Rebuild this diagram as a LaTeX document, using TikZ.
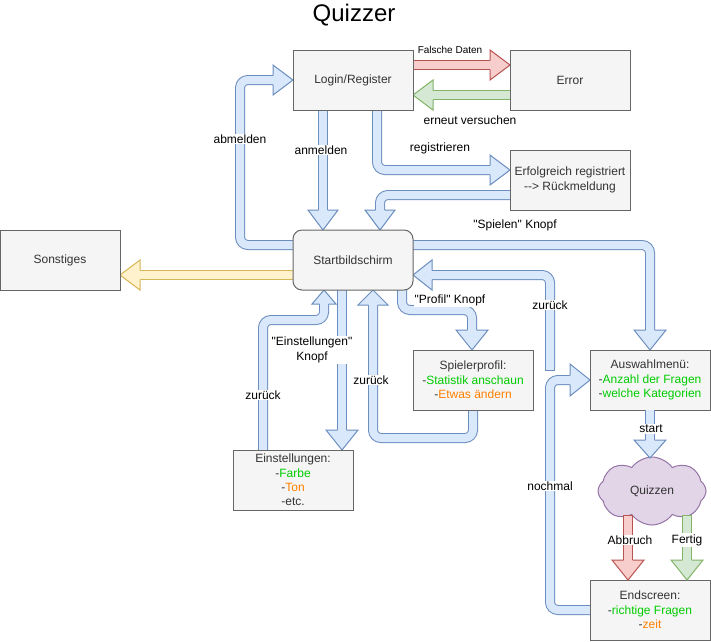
\documentclass[tikz,border=0pt]{standalone}
\usepackage{fontspec}
\setmainfont{Liberation Sans}
\newfontfamily\qfont{Liberation Sans}
\newcommand\dq{{\qfont"}}
\usetikzlibrary{calc,shapes.symbols}
\definecolor{blueF}{HTML}{DAE8FC}\definecolor{blueS}{HTML}{6C8EBF}
\definecolor{redF}{HTML}{F8CECC}\definecolor{redS}{HTML}{B85450}
\definecolor{greenF}{HTML}{D5E8D4}\definecolor{greenS}{HTML}{82B366}
\definecolor{yelF}{HTML}{FFF2CC}\definecolor{yelS}{HTML}{D6B656}
\definecolor{cloudF}{HTML}{E1D5E7}\definecolor{cloudS}{HTML}{9673A6}
\definecolor{boxF}{HTML}{F5F5F5}\definecolor{boxS}{HTML}{666666}
\definecolor{txt}{HTML}{333333}
\definecolor{G}{HTML}{00CC00}\definecolor{O}{HTML}{FF8000}
\pgfdeclarelayer{back}\pgfdeclarelayer{bg}
\pgfsetlayers{back,bg,main}
\newcommand\fhead[5]{%
  \begin{scope}[shift={#2},rotate=#3]
    \fill[#1F] (-#4,-4.5) -- (-#4,-#5) -- (0,0) -- (-#4,#5) -- (-#4,4.5) -- cycle;
    \draw[#1S,line width=1pt,line join=miter] (-#4,-4.5) -- (-#4,-#5) -- (0,0) -- (-#4,#5) -- (-#4,4.5);
  \end{scope}}
\begin{document}
\begin{tikzpicture}[x=1pt,y=-1pt,
  box/.style={draw=boxS, fill=boxF, line width=1pt, minimum width=120pt, minimum height=60pt,
    inner sep=0pt, outer sep=0pt, text=txt, align=center, font=\fontsize{12}{14.4}\selectfont},
  lbl/.style={fill=white, inner sep=1pt, text=black, align=center, font=\fontsize{12}{14.4}\selectfont},
  shaft/.style={draw=#1S, double=#1F, line width=1pt, double distance=8pt, rounded corners=8pt},
  tail/.style={draw=#1S, line width=1pt}]
\begin{pgfonlayer}{back}
  \fill[white] (0,0) rectangle (711,641);
\end{pgfonlayer}
\useasboundingbox (0,0) rectangle (711,641);

% title
\node[font=\fontsize{24}{28}\selectfont] (title) at (354,15) {Quizzer};

% boxes
\node[box] (login) at (353,80) {Login/Register};
\node[box] (error) at (570,80) {Error};
\node[box] (erfolg) at (570,180) {Erfolgreich registriert\\{-}{-}> Rückmeldung};
\node[box, rounded corners=9pt] (start) at (353,260) {Startbildschirm};
\node[box] (sonst) at (60,260) {Sonstiges};
\node[box] (profil) at (473,380) {Spielerprofil:\\-\textcolor{G}{Statistik anschaun}\\-\textcolor{O}{Etwas ändern}};
\node[box] (einst) at (293,480) {Einstellungen:\\-\textcolor{G}{Farbe}\\-\textcolor{O}{Ton}\\-etc.};
\node[box] (auswahl) at (650,380) {Auswahlmenü:\\-\textcolor{G}{Anzahl der Fragen}\\-\textcolor{G}{welche Kategorien}};
\node[cloud, draw=cloudS, fill=cloudF, line width=1pt, cloud puffs=8, cloud puff arc=110, aspect=1.6,
  minimum width=108pt, minimum height=68pt, inner sep=0pt, text=txt,
  font=\fontsize{12}{14.4}\selectfont] (quiz) at (652,491) {Quizzen};
\node[box] (endscr) at (650,610) {Endscreen:\\-\textcolor{G}{richtige Fragen}\\-\textcolor{O}{zeit}};

\begin{pgfonlayer}{bg}
  % anmelden
  \draw[shaft=blue] ($(login.south)+(-30,0)$) -- ($(start.north)+(-30,-20)$);
  \fhead{blue}{($(start.north)+(-30,0)$)}{-90}{20}{15}
  % registrieren
  \draw[shaft=blue] ($(login.south)+(24,0)$) |- ($(erfolg.west)+(-20,-10)$);
  \fhead{blue}{($(erfolg.west)+(0,-10)$)}{0}{20}{15}
  % Rueckmeldung -> Start
  \draw[shaft=blue] ($(erfolg.west)+(0,15)$) -| ($(start.north)+(27,-20)$);
  \fhead{blue}{($(start.north)+(27,0)$)}{-90}{20}{15}
  % abmelden
  \draw[shaft=blue] ($(start.west)+(0,-15)$) -- ++(-53,0) |- ($(login.west)+(-20,0)$);
  \fhead{blue}{(login.west)}{0}{20}{15}
  % Sonstiges
  \draw[shaft=yel] ($(start.west)+(0,15)$) -- ($(sonst.east)+(20,15)$);
  \fhead{yel}{($(sonst.east)+(0,15)$)}{180}{20}{15}
  % Falsche Daten
  \draw[shaft=red] ($(login.east)+(0,-15)$) -- ($(error.west)+(-20,-15)$);
  \fhead{red}{($(error.west)+(0,-15)$)}{0}{20}{15}
  % erneut versuchen
  \draw[shaft=green] ($(error.west)+(0,15)$) -- ($(login.east)+(20,15)$);
  \fhead{green}{($(login.east)+(0,15)$)}{180}{20}{15}
  % Spielen Knopf
  \draw[shaft=blue] ($(start.east)+(0,-15)$) -| ($(auswahl.north)+(0,-20)$);
  \fhead{blue}{(auswahl.north)}{-90}{20}{16}
  % zurueck from Auswahl
  \coordinate (zb) at ($(auswahl.west)+(-40,-10)$);
  \draw[shaft=blue] (zb) |- ($(start.east)+(19,15)$);
  \draw[tail=blue] ($(zb)+(-5,0)$) -- ($(zb)+(5,0)$);
  \fhead{blue}{($(start.east)+(0,15)$)}{180}{19}{15}
  % Profil Knopf
  \draw[shaft=blue] ($(start.south)+(49,0)$) -- ++(0,20) -| ($(profil.north)+(-1,-20)$);
  \fhead{blue}{($(profil.north)+(-1,0)$)}{-90}{20}{16}
  % zurueck from Profil
  \draw[shaft=blue] (profil.south) -- ++(0,28) -| ($(start.south)+(20,15)$);
  \fhead{blue}{($(start.south)+(20,0)$)}{90}{15}{15}
  % Einstellungen Knopf
  \draw[shaft=blue] ($(start.south)+(-11,0)$) -- ($(einst.north)+(49,-20)$);
  \fhead{blue}{($(einst.north)+(49,0)$)}{-90}{20}{16}
  % zurueck from Einstellungen
  \draw[shaft=blue] ($(einst.north)+(-30,0)$) -- ++(0,-130) -| ($(start.south)+(-29,14)$);
  \fhead{blue}{($(start.south)+(-29,0)$)}{90}{14}{12}
  % nochmal
  \draw[shaft=blue] (endscr.west) -- ++(-40,0) |- ($(auswahl.west)+(-20,0)$);
  \fhead{blue}{(auswahl.west)}{0}{20}{16}
\end{pgfonlayer}

% start
\draw[shaft=blue] (auswahl.south) -- ($(auswahl.south)+(0,30)$);
\fhead{blue}{($(auswahl.south)+(0,48)$)}{-90}{18}{16}
% Abbruch
\coordinate (ab) at ($(endscr.north)+(-22,-65)$);
\draw[shaft=red] (ab) -- ($(endscr.north)+(-22,-20)$);
\draw[tail=red] ($(ab)+(-5,0)$) -- ($(ab)+(5,0)$);
\fhead{red}{($(endscr.north)+(-22,0)$)}{-90}{20}{16}
% Fertig
\coordinate (fe) at ($(endscr.north)+(37,-65)$);
\draw[shaft=green] (fe) -- ($(endscr.north)+(37,-20)$);
\draw[tail=green] ($(fe)+(-5,0)$) -- ($(fe)+(5,0)$);
\fhead{green}{($(endscr.north)+(37,0)$)}{-90}{20}{16}

% labels
\node[lbl, font=\fontsize{10}{12}\selectfont] (lfd) at (450,50) {Falsche Daten};
\node[lbl] (lev) at (470,120) {erneut versuchen};
\node[lbl] (lreg) at (440,148) {registrieren};
\node[lbl] (lan) at (321,150) {anmelden};
\node[lbl] (lab) at (240,139) {abmelden};
\node[lbl] (lsp) at (515,225) {\dq Spielen\dq{} Knopf};
\node[lbl] (lz1) at (550,305) {zurück};
\node[lbl] (lpk) at (450,300) {\dq Profil\dq{} Knopf};
\node[lbl] (lz2) at (371,380) {zurück};
\node[lbl] (lek) at (312,350) {\dq Einstellungen\dq\\Knopf};
\node[lbl] (lz3) at (263,395) {zurück};
\node[lbl] (lst) at (651,429) {start};
\node[lbl] (labb) at (630,540) {Abbruch};
\node[lbl] (lfer) at (687,540) {Fertig};
\node[lbl] (lno) at (550,486) {nochmal};
\end{tikzpicture}
\end{document}
